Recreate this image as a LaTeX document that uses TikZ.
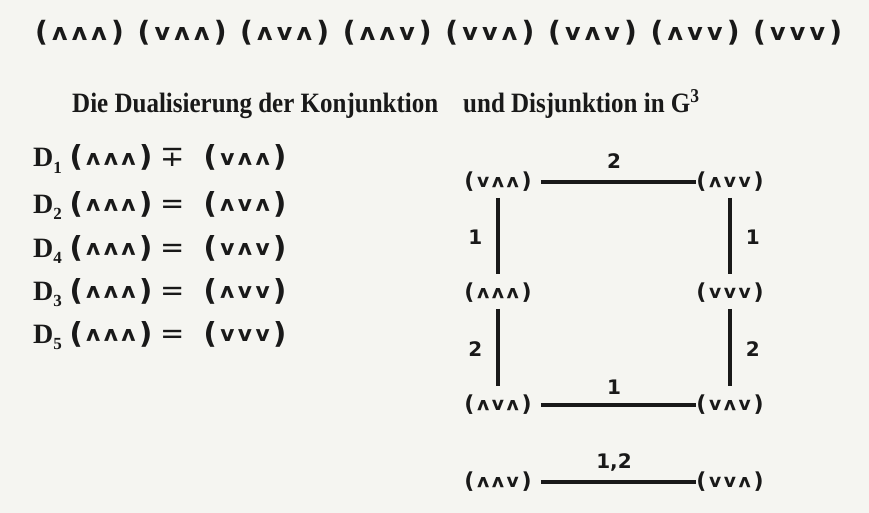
\documentclass[tikz,border=0pt]{standalone}
\usepackage{fontspec}
\usepackage{graphicx}
\setmainfont{Liberation Serif}
\newfontfamily\symf{DejaVu Sans}
\newfontfamily\labf{DejaVu Sans}
\def\vs{0.72}
\def\gs{0.13em}
\newcommand\sv{\raisebox{0.06em}{\scalebox{\vs}{v}}}
\newcommand\sw{\raisebox{0.06em}{\scalebox{\vs}{\rotatebox[origin=c]{180}{v}}}}
\newcommand\gp[3]{(\hspace{\gs}#1\hspace{\gs}#2\hspace{\gs}#3\hspace{\gs})}
\definecolor{bg}{RGB}{245,245,241}
\definecolor{ink}{RGB}{25,25,25}
\tikzset{
  toprow/.style={inner sep=0, anchor=base, text=ink, font=\symf\bfseries\fontsize{28}{28}\selectfont\def\vs{0.85}\def\gs{0.15em}},
  head/.style={inner sep=0, anchor=base west, text=ink, font=\bfseries\fontsize{25}{25}\selectfont},
  dlab/.style={inner sep=0, anchor=base west, text=ink, font=\bfseries\fontsize{28}{28}\selectfont},
  drow/.style={inner sep=0, anchor=base, text=ink, font=\symf\bfseries\fontsize{29}{29}\selectfont\def\vs{0.75}\def\gs{0.12em}},
  deq/.style={inner sep=0, anchor=base, text=ink, font=\symf\fontsize{29}{29}\selectfont},
  gnode/.style={inner sep=0, text=ink, font=\symf\bfseries\fontsize{22}{22}\selectfont\def\vs{0.85}\def\gs{0.12em}},
  lab/.style={inner sep=0, text=ink, font=\labf\bfseries\fontsize{20}{20}\selectfont},
  hedge/.style={draw=ink, line width=3.6pt, shorten <=9pt},
  vedge/.style={draw=ink, line width=3.6pt, shorten <=6pt, shorten >=9pt}
}
\newcommand\Dsub[1]{D\raisebox{-6pt}{\fontsize{17}{17}\selectfont #1}}
\newcommand\tall[1]{\scalebox{1}[1.12]{#1}}
\begin{document}
\begin{tikzpicture}[x=1pt,y=-1pt]
\path[fill=bg] (0,0) rectangle (869,513);
% top row
\node[toprow] (t1) at (79.5,42) {\gp\sw\sw\sw};
\node[toprow] (t2) at (182.1,42) {\gp\sv\sw\sw};
\node[toprow] (t3) at (284.7,42) {\gp\sw\sv\sw};
\node[toprow] (t4) at (387.3,42) {\gp\sw\sw\sv};
\node[toprow] (t5) at (489.9,42) {\gp\sv\sv\sw};
\node[toprow] (t6) at (592.5,42) {\gp\sv\sw\sv};
\node[toprow] (t7) at (695.1,42) {\gp\sw\sv\sv};
\node[toprow] (t8) at (797.7,42) {\gp\sv\sv\sv};
% heading
\node[head] (h1) at (72,113) {\tall{Die Dualisierung der Konjunktion}};
\node[head] (h2) at (463,113) {\tall{und Disjunktion in G\textsuperscript{3}}};
% D rows
\node[dlab] (d1) at (33,167) {\Dsub{1}};
\node[drow] (d1a) at (111,167) {\gp\sw\sw\sw};
\node[deq] (d1e) at (173,167) {∓};
\node[drow] (d1b) at (245,167) {\gp\sv\sw\sw};
\node[dlab] (d2) at (33,213) {\Dsub{2}};
\node[drow] (d2a) at (111,213) {\gp\sw\sw\sw};
\node[deq] (d2e) at (173,213) {=};
\node[drow] (d2b) at (245,213) {\gp\sw\sv\sw};
\node[dlab] (d4) at (33,257) {\Dsub{4}};
\node[drow] (d4a) at (111,257) {\gp\sw\sw\sw};
\node[deq] (d4e) at (173,257) {=};
\node[drow] (d4b) at (245,257) {\gp\sv\sw\sv};
\node[dlab] (d3) at (33,300) {\Dsub{3}};
\node[drow] (d3a) at (111,300) {\gp\sw\sw\sw};
\node[deq] (d3e) at (173,300) {=};
\node[drow] (d3b) at (245,300) {\gp\sw\sv\sv};
\node[dlab] (d5) at (33,343) {\Dsub{5}};
\node[drow] (d5a) at (111,343) {\gp\sw\sw\sw};
\node[deq] (d5e) at (173,343) {=};
\node[drow] (d5b) at (245,343) {\gp\sv\sv\sv};
% graph nodes
\node[gnode] (vaa) at (498,182) {\gp\sv\sw\sw};
\node[gnode] (avv) at (730,182) {\gp\sw\sv\sv};
\node[gnode] (aaa) at (498,293) {\gp\sw\sw\sw};
\node[gnode] (vvv) at (730,293) {\gp\sv\sv\sv};
\node[gnode] (ava) at (498,405) {\gp\sw\sv\sw};
\node[gnode] (vav) at (730,405) {\gp\sv\sw\sv};
\node[gnode] (aav) at (498,482) {\gp\sw\sw\sv};
\node[gnode] (vva) at (730,482) {\gp\sv\sv\sw};
% edges
\draw[hedge] (vaa) -- node[lab, above=12pt] {2} (avv);
\draw[vedge] (vaa) -- node[lab, left=14pt] {1} (aaa);
\draw[vedge] (avv) -- node[lab, right=14pt] {1} (vvv);
\draw[vedge] (aaa) -- node[lab, left=14pt] {2} (ava);
\draw[vedge] (vvv) -- node[lab, right=14pt] {2} (vav);
\draw[hedge] (ava) -- node[lab, above=9pt] {1} (vav);
\draw[hedge] (aav) -- node[lab, above=9pt] {1,2} (vva);
\end{tikzpicture}
\end{document}
